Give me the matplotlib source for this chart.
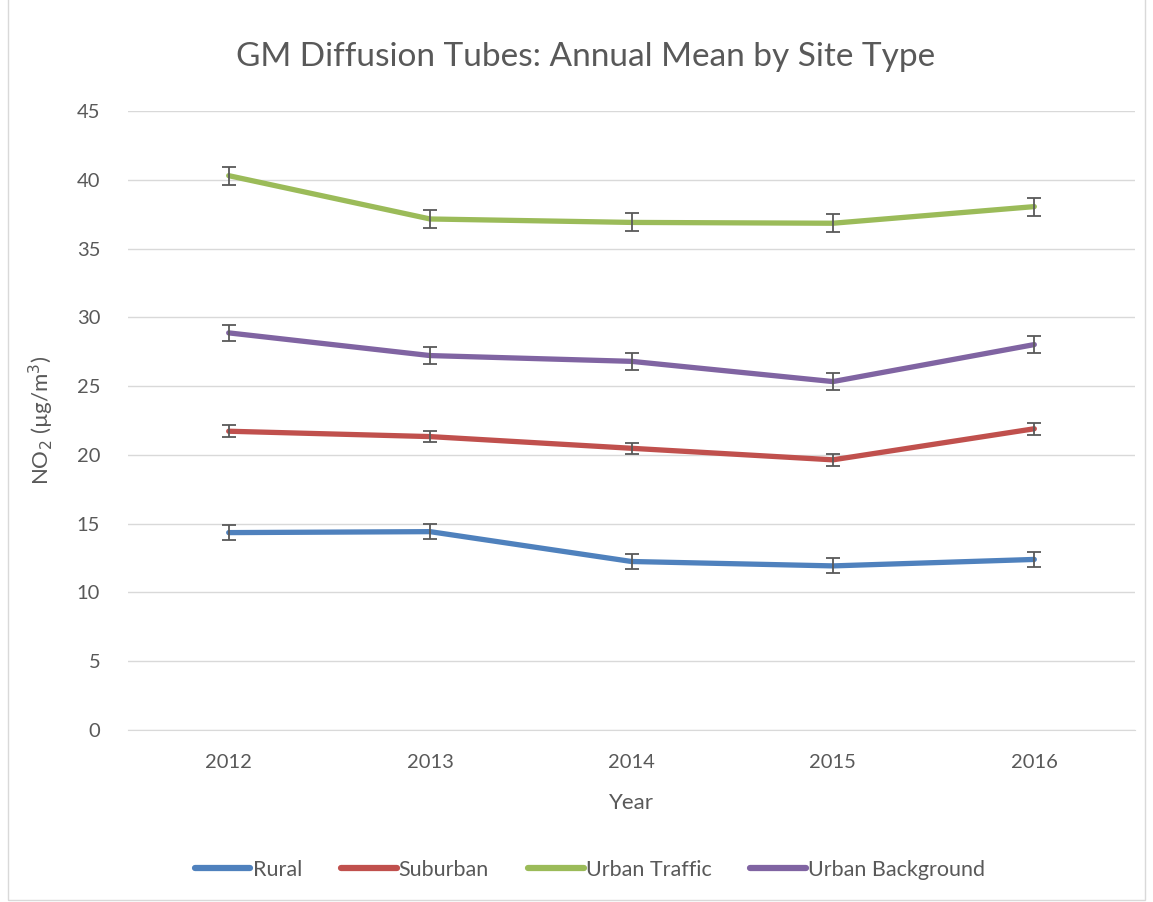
import matplotlib.pyplot as plt
from matplotlib.patches import Rectangle

years = ['2012', '2013', '2014', '2015', '2016']
rural = [14.35, 14.42, 12.25, 11.93, 12.4]
suburban = [21.72, 21.33, 20.48, 19.64, 21.9]
urban_traffic = [40.3, 37.15, 36.9, 36.84, 38.05]
urban_background = [28.87, 27.22, 26.8, 25.33, 28.02]
err_rural = [0.55, 0.55, 0.55, 0.55, 0.55]
err_suburban = [0.42, 0.42, 0.42, 0.42, 0.42]
err_traffic = [0.66, 0.66, 0.66, 0.66, 0.66]
err_background = [0.6, 0.6, 0.6, 0.6, 0.6]

plt.rcParams['font.family'] = ['Lato', 'DejaVu Sans']
text_col = '#595959'

fig = plt.figure(figsize=(11.53, 9.02), dpi=100)
ax = fig.add_axes([128 / 1153, 1 - 730 / 902, (1135 - 128) / 1153, (730 - 111) / 902])

series = [
    ('Rural', rural, err_rural, '#4F81BD'),
    ('Suburban', suburban, err_suburban, '#C0504D'),
    ('Urban Traffic', urban_traffic, err_traffic, '#9BBB59'),
    ('Urban Background', urban_background, err_background, '#8064A2'),
]
x = list(range(len(years)))
for name, vals, errs, col in series:
    ax.plot(x, vals, color=col, lw=3.8, solid_capstyle='round', label=name, zorder=3)
    ax.errorbar(x, vals, yerr=errs, fmt='none', ecolor='#595959', elinewidth=1.3,
                capsize=5, capthick=1.3, zorder=4)

ax.set_xlim(-0.5, len(years) - 0.5)
ax.set_ylim(0, 45)
ax.set_yticks(range(0, 46, 5))
ax.set_xticks(x)
ax.set_xticklabels(years)
ax.grid(axis='y', color='#D9D9D9', lw=1)
ax.set_axisbelow(True)
for s in ['top', 'right', 'left']:
    ax.spines[s].set_visible(False)
ax.spines['bottom'].set_color('#D9D9D9')
ax.tick_params(length=0, labelsize=14.5, colors=text_col, pad=17)
ax.tick_params(axis='y', pad=20)

ax.set_xlabel('Year', fontsize=16, color=text_col, labelpad=16)
ax.set_ylabel('NO$_2$ (µg/m$^3$)', fontsize=16, color=text_col, labelpad=15)
fig.text(586 / 1153, 1 - 57 / 902, 'GM Diffusion Tubes: Annual Mean by Site Type',
         ha='center', va='center', fontsize=24, color=text_col)

leg = fig.legend(loc='center', bbox_to_anchor=(590 / 1153, 1 - 870 / 902), ncol=4, frameon=False,
                 fontsize=15.5, handlelength=2.6, columnspacing=1.8, handletextpad=0.1)
for t in leg.get_texts():
    t.set_color(text_col)
for h in leg.legend_handles:
    h.set_linewidth(4.5)

fig.patches.append(Rectangle((8 / 1153, 0.002), 1 - 16 / 1153, 1.2, transform=fig.transFigure,
                             fill=False, edgecolor='#D9D9D9', lw=1))

fig.savefig('out.png', dpi=100)
